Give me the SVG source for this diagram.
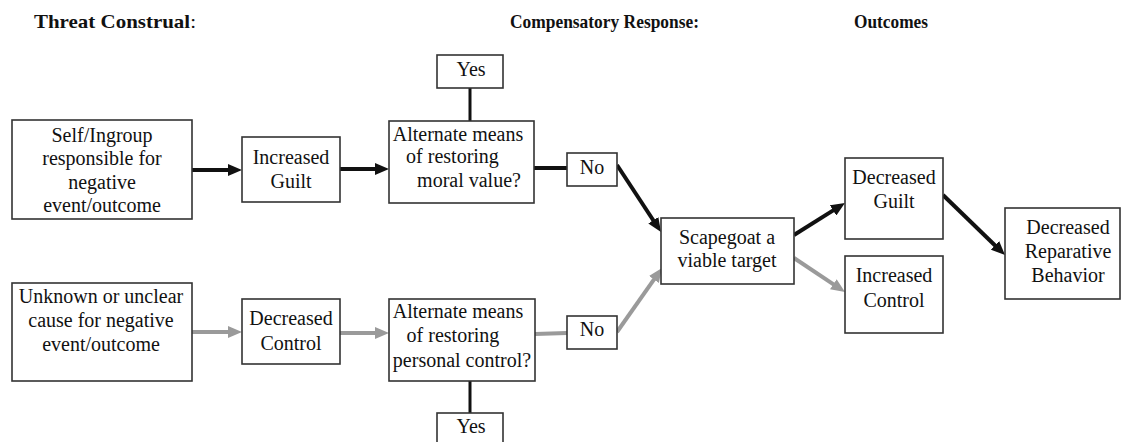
<svg xmlns="http://www.w3.org/2000/svg" width="1121" height="442" viewBox="0 0 1121 442">
<style>
.box{fill:#fff;stroke:#333;stroke-width:1.6}
.t{font-family:"Liberation Serif","Times New Roman",serif;font-size:20px;fill:#111;text-anchor:middle}
.h{font-family:"Liberation Serif","Times New Roman",serif;font-size:19px;font-weight:bold;fill:#111}
.blk{stroke:#111;stroke-width:4;fill:none}
.gry{stroke:#9a9a9a;stroke-width:4;fill:none}
.ln{stroke:#111;stroke-width:3;fill:none}
</style>
<defs>
<marker id="ab" markerUnits="userSpaceOnUse" markerWidth="14" markerHeight="12" refX="2" refY="6" orient="auto"><path d="M0,0 L14,6 L0,12 z" fill="#111"/></marker>
<marker id="ag" markerUnits="userSpaceOnUse" markerWidth="14" markerHeight="12" refX="2" refY="6" orient="auto"><path d="M0,0 L14,6 L0,12 z" fill="#9a9a9a"/></marker>
</defs>
<rect width="1121" height="442" fill="#fff"/>
<g id="headers">
<text class="h" x="34" y="28" textLength="162" lengthAdjust="spacingAndGlyphs">Threat Construal<tspan font-weight="normal">:</tspan></text>
<text class="h" x="510" y="28" textLength="189" lengthAdjust="spacingAndGlyphs">Compensatory Response:</text>
<text class="h" x="854" y="28" textLength="74" lengthAdjust="spacingAndGlyphs">Outcomes</text>
</g>
<g id="connectors">
<line class="blk" x1="192" y1="170" x2="230" y2="170" marker-end="url(#ab)"/>
<line class="blk" x1="340" y1="169" x2="377" y2="169" marker-end="url(#ab)"/>
<line class="blk" x1="534" y1="168" x2="567" y2="168"/>
<line class="ln" x1="470" y1="88" x2="470" y2="121"/>
<line class="blk" x1="617" y1="165" x2="654.4" y2="222" marker-end="url(#ab)"/>
<line class="gry" x1="192" y1="332" x2="230" y2="332" marker-end="url(#ag)"/>
<line class="gry" x1="340" y1="333" x2="377" y2="333" marker-end="url(#ag)"/>
<line class="gry" x1="535" y1="334" x2="567" y2="333"/>
<line class="ln" x1="470" y1="381" x2="470" y2="413"/>
<line class="gry" x1="617" y1="332" x2="655.1" y2="277.8" marker-end="url(#ag)"/>
<line class="blk" x1="794" y1="235" x2="834.8" y2="209.4" marker-end="url(#ab)"/>
<line class="gry" x1="794" y1="258" x2="835" y2="285.3" marker-end="url(#ag)"/>
<line class="blk" x1="943" y1="195" x2="996.4" y2="246.7" marker-end="url(#ab)"/>
</g>
<g id="self-ingroup">
<rect class="box" x="12" y="120" width="180" height="99"/>
<text class="t" x="102" y="142">Self/Ingroup</text>
<text class="t" x="102" y="165">responsible for</text>
<text class="t" x="102" y="189">negative</text>
<text class="t" x="102" y="212">event/outcome</text>
</g>
<g id="increased-guilt">
<rect class="box" x="242" y="137" width="98" height="65"/>
<text class="t" x="291" y="164">Increased</text>
<text class="t" x="291" y="188">Guilt</text>
</g>
<g id="yes-top">
<rect class="box" x="437" y="55" width="66" height="33"/>
<text class="t" x="471" y="76">Yes</text>
</g>
<g id="alt-moral">
<rect class="box" x="389" y="121" width="145" height="82"/>
<text class="t" x="458" y="141">Alternate means</text>
<text class="t" x="452.5" y="163">of restoring</text>
<text class="t" x="469" y="187">moral value?</text>
</g>
<g id="no-top">
<rect class="box" x="567" y="153" width="50" height="33"/>
<text class="t" x="592" y="174">No</text>
</g>
<g id="unknown-cause">
<rect class="box" x="12" y="283" width="180" height="98"/>
<text class="t" x="101" y="303">Unknown or unclear</text>
<text class="t" x="101" y="327">cause for negative</text>
<text class="t" x="101" y="351">event/outcome</text>
</g>
<g id="decreased-control">
<rect class="box" x="242" y="299" width="98" height="65"/>
<text class="t" x="291" y="325">Decreased</text>
<text class="t" x="291" y="350">Control</text>
</g>
<g id="alt-control">
<rect class="box" x="389" y="299" width="146" height="82"/>
<text class="t" x="458" y="318">Alternate means</text>
<text class="t" x="453" y="342">of restoring</text>
<text class="t" x="462" y="367">personal control?</text>
</g>
<g id="no-bottom">
<rect class="box" x="567" y="316" width="50" height="33"/>
<text class="t" x="592" y="336">No</text>
</g>
<g id="yes-bottom">
<rect class="box" x="437" y="413" width="66" height="34"/>
<text class="t" x="471" y="433">Yes</text>
</g>
<g id="scapegoat">
<rect class="box" x="661" y="218" width="133" height="66"/>
<text class="t" x="727" y="244">Scapegoat a</text>
<text class="t" x="727" y="267">viable target</text>
</g>
<g id="decreased-guilt">
<rect class="box" x="845" y="158" width="98" height="81"/>
<text class="t" x="894" y="184">Decreased</text>
<text class="t" x="894" y="208">Guilt</text>
</g>
<g id="increased-control">
<rect class="box" x="845" y="256" width="98" height="77"/>
<text class="t" x="894" y="282">Increased</text>
<text class="t" x="894" y="307">Control</text>
</g>
<g id="decreased-reparative">
<rect class="box" x="1005" y="208" width="115" height="91"/>
<text class="t" x="1068" y="234">Decreased</text>
<text class="t" x="1068" y="258">Reparative</text>
<text class="t" x="1068" y="282">Behavior</text>
</g>
</svg>
